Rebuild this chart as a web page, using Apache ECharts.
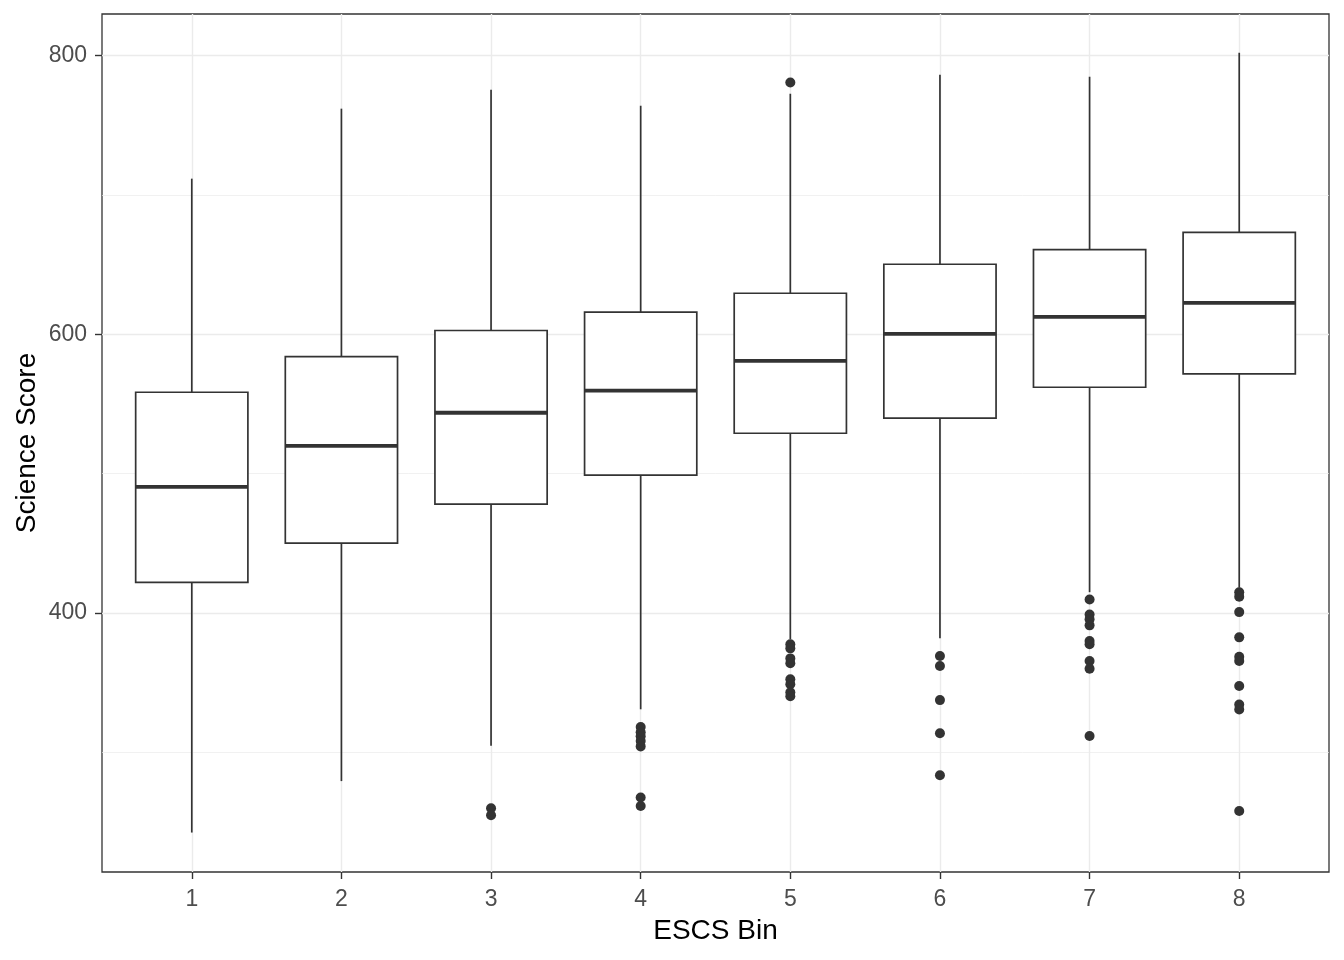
<!DOCTYPE html>
<html>
<head>
<meta charset="utf-8">
<script src="https://cdn.jsdelivr.net/npm/echarts@6/dist/echarts.min.js"></script>
<style>html,body{margin:0;padding:0;background:#fff}#chart{width:1344px;height:960px}</style>
</head>
<body>
<div id="chart"></div>
<script>
const categories = ['1','2','3','4','5','6','7','8'];
const whiskerLow  = [242.6, 279.5, 304.9, 331.0, 381.2, 381.9, 415.0, 418.2];
const q1          = [422.0, 450.2, 478.1, 498.9, 529.0, 539.8, 562.0, 571.6];
const median      = [490.6, 520.0, 543.7, 559.6, 580.9, 600.3, 612.5, 622.5];
const q3          = [558.4, 584.0, 602.7, 615.8, 629.4, 650.2, 660.7, 673.1];
const whiskerHigh = [711.6, 761.8, 775.4, 763.9, 772.5, 786.2, 784.7, 801.9];
const outliers = [
  [],
  [],
  [260.0, 255.0],
  [318.3, 314.5, 311.6, 308.2, 304.4, 267.7, 261.6],
  [780.6, 377.6, 374.7, 367.5, 364.0, 352.5, 348.9, 343.2, 340.3],
  [369.2, 362.0, 337.6, 313.8, 283.7],
  [409.8, 399.0, 395.5, 391.2, 379.9, 377.6, 365.6, 360.1, 311.8],
  [415.0, 411.8, 400.7, 382.6, 368.7, 365.6, 347.7, 334.5, 330.9, 258.0]
];
const yMajorTicks = [400, 600, 800];
const yMinorTicks = [300, 500, 700];

const boxData = categories.map((c, i) => [i + 1, whiskerLow[i], q1[i], median[i], q3[i], whiskerHigh[i]]);
const outlierData = [];
outliers.forEach((arr, i) => arr.forEach(v => outlierData.push([i + 1, v])));

const FONT = 'Liberation Sans, Arial, sans-serif';
const DARK = '#333333';

const chart = echarts.init(document.getElementById('chart'));
chart.setOption({
  backgroundColor: '#ffffff',
  animation: false,
  grid: { left: 102, top: 14, width: 1227, height: 858, show: true, borderColor: DARK, borderWidth: 1.3, backgroundColor: '#ffffff' },
  xAxis: {
    type: 'value', min: 0.4, max: 8.6,
    axisLine: { show: false },
    axisTick: { show: true, length: 7, lineStyle: { color: DARK, width: 1.4 }, customValues: [1,2,3,4,5,6,7,8] },
    axisLabel: { customValues: [1,2,3,4,5,6,7,8], formatter: v => categories[Math.round(v) - 1], color: '#4D4D4D', fontSize: 23, fontFamily: FONT, margin: 16 },
    splitLine: { show: true, lineStyle: { color: '#EBEBEB', width: 1.4 } },
    name: 'ESCS Bin', nameLocation: 'middle', nameGap: 45, nameMoveOverlap: false,
    nameTextStyle: { color: '#000000', fontSize: 28, fontFamily: FONT }
  },
  yAxis: [{
    type: 'value', min: 214.3, max: 829.7,
    axisLine: { show: false },
    axisTick: { show: true, length: 7, lineStyle: { color: DARK, width: 1.4 }, customValues: yMajorTicks },
    axisLabel: { customValues: yMajorTicks, color: '#4D4D4D', fontSize: 23, fontFamily: FONT, margin: 15 },
    splitLine: { show: true, lineStyle: { color: '#EBEBEB', width: 1.4 } },
    name: 'Science Score', nameLocation: 'middle', nameGap: 61, nameMoveOverlap: false,
    nameTextStyle: { color: '#000000', fontSize: 28, fontFamily: FONT }
  }, {
    type: 'value', min: 214.3, max: 829.7, position: 'left',
    axisLine: { show: false },
    axisTick: { show: false, customValues: yMinorTicks },
    axisLabel: { show: false, customValues: yMinorTicks },
    splitLine: { show: true, lineStyle: { color: '#EBEBEB', width: 0.7 } }
  }],
  series: [{
    type: 'scatter',
    data: outlierData,
    symbol: 'circle', symbolSize: 10,
    itemStyle: { color: DARK, opacity: 1 },
    z: 3
  }, {
    type: 'custom',
    data: boxData,
    encode: { x: 0, y: [1, 2, 3, 4, 5] },
    z: 4,
    renderItem: function (params, api) {
      const x = api.value(0);
      const pLow = api.coord([x, api.value(1)]);
      const pQ1 = api.coord([x, api.value(2)]);
      const pMed = api.coord([x, api.value(3)]);
      const pQ3 = api.coord([x, api.value(4)]);
      const pHigh = api.coord([x, api.value(5)]);
      const half = api.size([0.75, 0])[0] / 2;
      const cx = pQ1[0];
      const lw = 1.7;
      return {
        type: 'group',
        children: [
          { type: 'line', shape: { x1: cx, y1: pHigh[1], x2: cx, y2: pQ3[1] }, style: { stroke: DARK, lineWidth: lw } },
          { type: 'line', shape: { x1: cx, y1: pQ1[1], x2: cx, y2: pLow[1] }, style: { stroke: DARK, lineWidth: lw } },
          { type: 'rect', shape: { x: cx - half, y: pQ3[1], width: half * 2, height: pQ1[1] - pQ3[1] }, style: { fill: '#ffffff', stroke: DARK, lineWidth: lw } },
          { type: 'line', shape: { x1: cx - half, y1: pMed[1], x2: cx + half, y2: pMed[1] }, style: { stroke: DARK, lineWidth: 3.8 } }
        ]
      };
    }
  }]
});
</script>
</body>
</html>
